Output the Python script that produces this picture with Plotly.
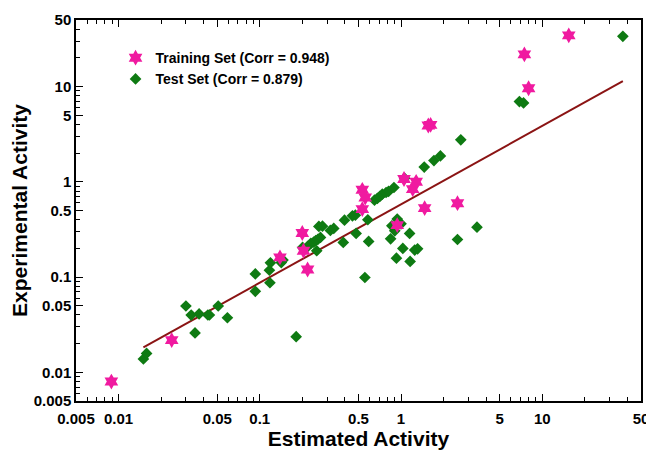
import numpy as np
import plotly.graph_objects as go

# Training set (estimated, experimental)
train_est = [0.0089, 0.0238, 0.139, 0.20, 0.204, 0.218, 0.532, 0.558, 0.532, 0.94,
             1.05, 1.21, 1.28, 1.47, 1.62, 1.56, 2.51, 7.47, 8.0, 15.4]
train_exp = [0.008, 0.0218, 0.161, 0.29, 0.189, 0.12, 0.824, 0.685, 0.517, 0.351,
             1.07, 0.838, 1.0, 0.53, 3.96, 3.9, 0.597, 21.8, 9.6, 34.5]

# Test set (estimated, experimental)
test_est = [0.015, 0.0158, 0.030, 0.0327, 0.0348, 0.0372, 0.0429, 0.044, 0.0508, 0.059,
            0.093, 0.093, 0.117, 0.118, 0.119, 0.142, 0.146, 0.181, 0.201, 0.219,
            0.23, 0.241, 0.249, 0.258, 0.269, 0.253, 0.262, 0.278, 0.316, 0.334,
            0.39, 0.398, 0.453, 0.475, 0.481, 0.555, 0.582, 0.59, 0.649, 0.68,
            0.708, 0.737, 0.784, 0.816, 0.891, 0.844, 0.861, 0.903, 0.928, 0.94,
            1.0, 1.03, 1.06, 1.15, 1.16, 1.25, 1.31, 1.46, 1.71, 1.9,
            2.51, 2.65, 3.45, 6.89, 7.37, 37.2]
test_exp = [0.0138, 0.0158, 0.0497, 0.0399, 0.0259, 0.041, 0.040, 0.040, 0.0497, 0.0374,
            0.108, 0.0708, 0.118, 0.0872, 0.141, 0.142, 0.151, 0.0237, 0.205, 0.21,
            0.226, 0.233, 0.241, 0.249, 0.261, 0.189, 0.34, 0.342, 0.309, 0.324,
            0.231, 0.396, 0.44, 0.447, 0.287, 0.099, 0.40, 0.237, 0.642, 0.669,
            0.702, 0.742, 0.773, 0.792, 0.872, 0.252, 0.345, 0.306, 0.158, 0.406,
            0.362, 0.20, 1.09, 0.287, 0.146, 0.192, 0.198, 1.43, 1.67, 1.87,
            0.248, 2.76, 0.334, 6.96, 6.74, 33.7]

# regression line end points
fit_est = [0.015, 37.2]
fit_exp = [0.0183, 11.4]

tick_vals = [0.005, 0.01, 0.05, 0.1, 0.5, 1, 5, 10, 50]
tick_text = ["0.005", "0.01", "0.05", "0.1", "0.5", "1", "5", "10", "50"]

minor_vals = [m * 10.0 ** e for e in range(-3, 2) for m in range(2, 10)]

FONT = "Liberation Sans, Arial"

fig = go.Figure()
fig.add_trace(go.Scatter(x=fit_est, y=fit_exp, mode="lines",
                         line=dict(color="#8B1414", width=2), showlegend=False))
fig.add_trace(go.Scatter(x=test_est, y=test_exp, mode="markers", name="Test Set (Corr = 0.879)",
                         marker=dict(symbol="diamond", size=9, color="#0E7A12")))
fig.add_trace(go.Scatter(x=train_est, y=train_exp, mode="markers", name="Training Set (Corr = 0.948)",
                         marker=dict(symbol="hexagram", size=12, color="#F01AA0")))

axis_common = dict(
    type="log",
    automargin=False,
    tickmode="array",
    tickvals=tick_vals,
    ticktext=tick_text,
    ticks="inside",
    ticklen=7,
    tickwidth=1,
    tickcolor="black",
    showline=True,
    linecolor="black",
    linewidth=1.5,
    showgrid=False,
    zeroline=False,
    tickfont=dict(family=FONT, size=15, color="black", weight="bold"),
    minor=dict(tickmode="array", tickvals=minor_vals, ticks="inside", ticklen=4,
               tickcolor="black", showgrid=False),
)

fig.update_xaxes(**axis_common, range=[np.log10(0.005), np.log10(50)], mirror="ticks",
                 ticklabelstandoff=3,
                 title=dict(text="Estimated Activity", standoff=4,
                            font=dict(family=FONT, size=21, color="black", weight="bold")))
fig.update_yaxes(**axis_common, range=[np.log10(0.005), np.log10(50)], mirror=True,
                 title=dict(text="Experimental Activity", standoff=2,
                            font=dict(family=FONT, size=21, color="black", weight="bold")))

# page body has an 8px margin, so the figure is sized to the visible window area
fig.update_layout(
    width=646, height=443,
    margin=dict(l=68, r=13, t=12, b=50),
    plot_bgcolor="white",
    paper_bgcolor="white",
    legend=dict(x=0.07, y=0.942, xanchor="left", yanchor="top", traceorder="reversed",
                bgcolor="rgba(0,0,0,0)",
                font=dict(family=FONT, size=14, color="black", weight="bold")),
)

fig.write_html("out.html")
